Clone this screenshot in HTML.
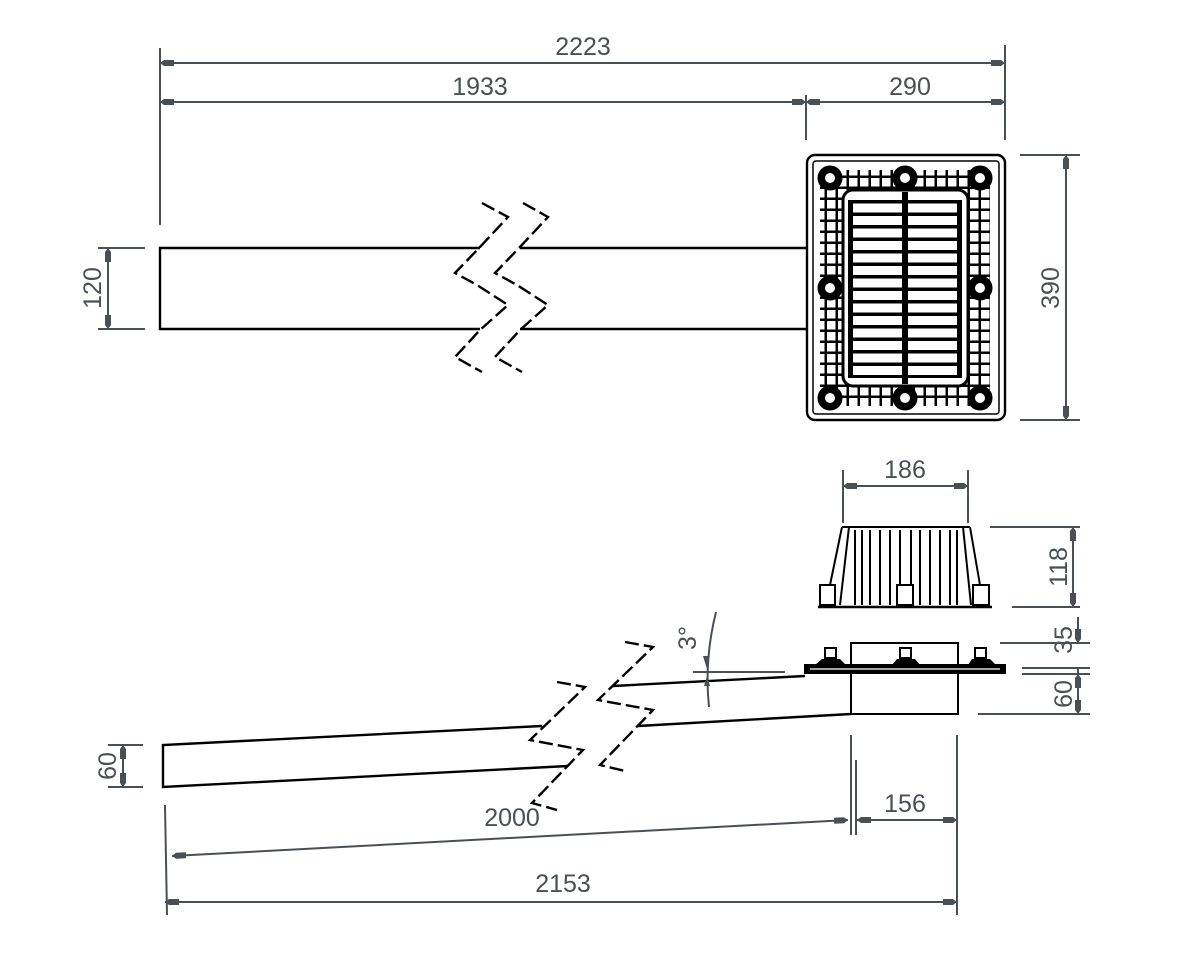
<!DOCTYPE html>
<html><head><meta charset="utf-8"><style>
html,body{margin:0;padding:0;background:#fff;}
svg{display:block;}
text{font-family:"Liberation Sans",sans-serif;font-size:25px;fill:#4a4f55;}
.d{stroke:#4a4f55;stroke-width:2;fill:none;}
.o{stroke:#000;stroke-width:2.4;fill:none;}
.b{stroke:#000;stroke-width:2.4;fill:none;stroke-dasharray:14 5;}
</style></head><body>
<svg width="1200" height="967" viewBox="0 0 1200 967" xmlns="http://www.w3.org/2000/svg">
<defs>
<marker id="a" viewBox="0 0 14 8" refX="14" refY="4" markerWidth="14" markerHeight="8" markerUnits="userSpaceOnUse" orient="auto-start-reverse">
<path d="M0,1 L10,1 L14,4 L10,7 L0,7 Z" fill="#4a4f55"/></marker>
<pattern id="sl" x="0" y="200" width="200" height="12.5" patternUnits="userSpaceOnUse">
<rect x="0" y="0" width="200" height="3.5" fill="#000"/></pattern>
<pattern id="sq" x="0" y="0" width="11" height="11" patternUnits="userSpaceOnUse">
<rect x="2" y="2" width="8.5" height="8.5" fill="#fff"/></pattern>
</defs>

<line class="d" x1="160" y1="48" x2="160" y2="225"/>
<line class="d" x1="1005" y1="45" x2="1005" y2="140"/>
<line class="d" x1="806" y1="95" x2="806" y2="140"/>
<line class="d" x1="160" y1="63" x2="1005" y2="63" marker-start="url(#a)" marker-end="url(#a)"/>
<text x="583" y="55" text-anchor="middle">2223</text>
<line class="d" x1="160" y1="102" x2="806" y2="102" marker-start="url(#a)" marker-end="url(#a)"/>
<text x="480" y="95" text-anchor="middle">1933</text>
<line class="d" x1="806" y1="102" x2="1005" y2="102" marker-start="url(#a)" marker-end="url(#a)"/>
<text x="910" y="95" text-anchor="middle">290</text>

<line class="d" x1="98" y1="248" x2="145" y2="248"/>
<line class="d" x1="98" y1="329" x2="145" y2="329"/>
<line class="d" x1="108" y1="248" x2="108" y2="329" marker-start="url(#a)" marker-end="url(#a)"/>
<text transform="translate(101,288) rotate(-90)" text-anchor="middle">120</text>

<path class="o" d="M480,248 H160 V329 H480 M520,248 H806 M520,329 H806"/>
<path class="b" d="M482,203 L508,217 L480,247 L455,273 L477,285 L508,305 L480,330 L455,357 L482,372"/>
<path class="b" d="M523,203 L548,217 L520,247 L495,273 L517,285 L548,305 L520,330 L495,357 L522,372"/>

<rect x="807" y="155" width="198" height="265" rx="8" class="o"/>
<rect x="813" y="161" width="186" height="253" rx="3" fill="none" stroke="#000" stroke-width="1.5"/>
<rect x="820" y="170" width="170" height="236" fill="#000"/>
<rect x="820" y="170" width="170" height="236" fill="url(#sq)"/>
<rect x="843" y="190" width="125" height="196" rx="10" fill="#fff" stroke="#000" stroke-width="3"/>
<rect x="849" y="198" width="113" height="180" fill="url(#sl)"/>
<rect x="902" y="192" width="6" height="192" fill="#000"/>
<rect x="848" y="200" width="5" height="178" fill="#000"/>
<rect x="957" y="200" width="5" height="178" fill="#000"/>
<g fill="#000" stroke="#000" stroke-width="1">
<circle cx="830" cy="178" r="12"/><circle cx="905" cy="178" r="12"/><circle cx="980" cy="178" r="12"/>
<circle cx="830" cy="288" r="12"/><circle cx="980" cy="288" r="12"/>
<circle cx="830" cy="398" r="12"/><circle cx="905" cy="398" r="12"/><circle cx="980" cy="398" r="12"/>
</g>
<g fill="#fff">
<circle cx="830" cy="178" r="5"/><circle cx="905" cy="178" r="5"/><circle cx="980" cy="178" r="5"/>
<circle cx="830" cy="288" r="5"/><circle cx="980" cy="288" r="5"/>
<circle cx="830" cy="398" r="5"/><circle cx="905" cy="398" r="5"/><circle cx="980" cy="398" r="5"/>
</g>

<line class="d" x1="1020" y1="155" x2="1080" y2="155"/>
<line class="d" x1="1020" y1="420" x2="1080" y2="420"/>
<line class="d" x1="1066" y1="155" x2="1066" y2="420" marker-start="url(#a)" marker-end="url(#a)"/>
<text transform="translate(1059,288) rotate(-90)" text-anchor="middle">390</text>

<line class="d" x1="843" y1="470" x2="843" y2="523"/>
<line class="d" x1="968" y1="470" x2="968" y2="523"/>
<line class="d" x1="843" y1="486" x2="968" y2="486" marker-start="url(#a)" marker-end="url(#a)"/>
<text x="905" y="478" text-anchor="middle">186</text>

<g stroke="#000" stroke-width="2" fill="none">
<line x1="842" y1="527" x2="970" y2="527"/>
<path d="M842,527 L830,585 M849,527 L840,605 M970,527 L980,585 M963,527 L971,605"/>
<path d="M855,530 V605 M862,530 V605 M870,530 V605 M880,530 V605 M890,530 V605 M900,530 V585 M911,530 V585 M920,530 V605 M930,530 V605 M940,530 V605 M950,530 V605 M957,530 V605"/>
<rect x="820" y="585" width="15" height="20"/>
<rect x="897" y="585" width="16" height="20"/>
<rect x="973" y="585" width="16" height="20"/>
<line x1="818" y1="607" x2="992" y2="607" stroke-width="2.5"/>
</g>
<line class="d" x1="990" y1="527" x2="1080" y2="527"/>
<line class="d" x1="1012" y1="607" x2="1080" y2="607"/>
<line class="d" x1="1073" y1="527" x2="1073" y2="607" marker-start="url(#a)" marker-end="url(#a)"/>
<text transform="translate(1067,567) rotate(-90)" text-anchor="middle">118</text>

<g stroke="#000" stroke-width="2" fill="none">
<rect x="851" y="643" width="107" height="22"/>
<rect x="805" y="665" width="200" height="8" fill="#000"/>
<line x1="810" y1="669" x2="1000" y2="669" stroke="#fff" stroke-width="1.2"/>
<path d="M851,673 V714 H958 V673"/>
<rect x="825" y="648" width="11" height="10"/><rect x="900" y="648" width="11" height="10"/><rect x="975" y="648" width="11" height="10"/>
</g>
<g fill="#000">
<path d="M815,665 L822,659 L840,659 L846,665 Z"/><path d="M892,665 L897,659 L915,659 L920,665 Z"/><path d="M968,665 L972,659 L990,659 L996,665 Z"/>
</g>
<line class="d" x1="1000" y1="643" x2="1090" y2="643"/>
<line class="d" x1="1022" y1="668" x2="1090" y2="668"/>
<line class="d" x1="1022" y1="674" x2="1090" y2="674"/>
<line class="d" x1="978" y1="714" x2="1090" y2="714"/>
<line class="d" x1="1078" y1="617" x2="1078" y2="643" marker-end="url(#a)"/>
<line class="d" x1="1078" y1="668" x2="1078" y2="674"/>
<line class="d" x1="1078" y1="674" x2="1078" y2="714" marker-start="url(#a)" marker-end="url(#a)"/>
<text transform="translate(1072,640) rotate(-90)" text-anchor="middle">35</text>
<text transform="translate(1072,694) rotate(-90)" text-anchor="middle">60</text>

<path class="o" d="M542,726 L163,745 V787 L568,766 M613,686 L805,676 M638,726 L851,714"/>
<path class="b" d="M557,682 L585,687 L530,740 L583,750 L532,803 L557,810"/>
<path class="b" d="M625,642 L653,647 L598,700 L653,710 L600,765 L625,771"/>

<line class="d" x1="108" y1="745" x2="143" y2="745"/>
<line class="d" x1="108" y1="787" x2="143" y2="787"/>
<line class="d" x1="123" y1="745" x2="123" y2="787" marker-start="url(#a)" marker-end="url(#a)"/>
<text transform="translate(116,766) rotate(-90)" text-anchor="middle">60</text>

<line class="d" x1="693" y1="672" x2="785" y2="672"/>
<path class="d" d="M716,612 Q704,660 709,707"/>
<path d="M703,656 L709,656 L707,669 Z M704,686 L710,686 L707,676 Z" fill="#4a4f55"/>
<text transform="translate(696,638) rotate(-90)" text-anchor="middle">3°</text>

<line class="d" x1="165" y1="805" x2="167" y2="915"/>
<line class="d" x1="172" y1="856" x2="848" y2="820" marker-start="url(#a)" marker-end="url(#a)"/>
<text x="512" y="826" text-anchor="middle">2000</text>

<line class="d" x1="851" y1="735" x2="851" y2="835"/>
<line class="d" x1="856" y1="760" x2="856" y2="835"/>
<line class="d" x1="957" y1="735" x2="957" y2="915"/>
<line class="d" x1="857" y1="820" x2="957" y2="820" marker-start="url(#a)" marker-end="url(#a)"/>
<text x="905" y="812" text-anchor="middle">156</text>
<line class="d" x1="165" y1="902" x2="957" y2="902" marker-start="url(#a)" marker-end="url(#a)"/>
<text x="563" y="892" text-anchor="middle">2153</text>
</svg>
</body></html>
